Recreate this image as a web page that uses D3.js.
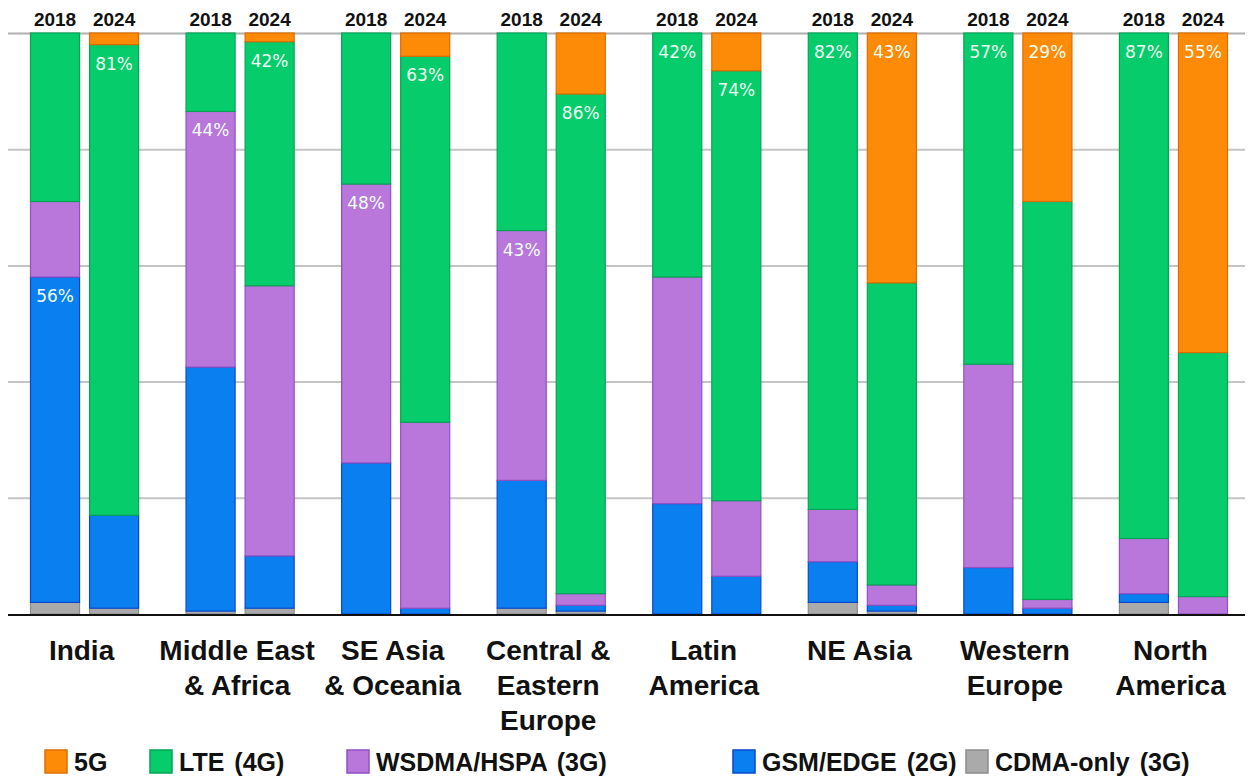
<!DOCTYPE html>
<html>
<head>
<meta charset="utf-8">
<script src="https://cdn.jsdelivr.net/npm/d3@7"></script>
<style>
  body { margin: 0; background: #fff; }
  svg { display: block; }
  .cat { font-family: "Liberation Sans", Arial, sans-serif; font-weight: bold; font-size: 28px; fill: #111; }
  .yr { font-family: "Liberation Sans", Arial, sans-serif; font-weight: bold; font-size: 19px; fill: #111; }
  .pct { font-family: "DejaVu Sans", Verdana, sans-serif; font-size: 17px; fill: #effff6; }
  .leg { font-family: "Liberation Sans", Arial, sans-serif; font-weight: bold; font-size: 25px; fill: #111; }
</style>
</head>
<body>
<div id="chart"></div>
<script>
// Chart data: each pair is [2018, 2024] share of subscriptions (%)
var categories = ["India", "Middle East\n& Africa", "SE Asia\n& Oceania", "Central &\nEastern\nEurope",
  "Latin\nAmerica", "NE Asia", "Western\nEurope", "North\nAmerica"];
var years = ["2018", "2024"];

var cdma  = [[2, 1], [0.5, 1], [0, 0], [1, 0.5], [0, 0], [2, 0.5], [0, 0], [2, 0]];
var gsm   = [[56, 16], [42, 9], [26, 1], [22, 1], [19, 6.5], [7, 1], [8, 1], [1.5, 0]];
var wcdma = [[13, 0], [44, 46.5], [48, 32], [43, 2], [39, 13], [9, 3.5], [35, 1.5], [9.5, 3]];
var lte   = [[29, 81], [13.5, 42], [26, 63], [34, 86], [42, 74], [82, 52], [57, 68.5], [87, 42]];
var fiveG = [[0, 2], [0, 1.5], [0, 4], [0, 10.5], [0, 6.5], [0, 43], [0, 29], [0, 55]];

// which series carries the printed % label on each bar
var labelKeys = [["gsm", "lte"], ["wcdma", "lte"], ["wcdma", "lte"], ["wcdma", "lte"],
  ["lte", "lte"], ["lte", "fiveG"], ["lte", "fiveG"], ["lte", "fiveG"]];

var legendNames = ["5G", "LTE (4G)", "WSDMA/HSPA (3G)", "GSM/EDGE (2G)", "CDMA-only (3G)"];

// stack order bottom -> top
var keys = ["cdma", "gsm", "wcdma", "lte", "fiveG"];
var colors = { cdma: "#aaaaaa", gsm: "#0a80f0", wcdma: "#b977dc", lte: "#07cc6b", fiveG: "#fd8b08" };
var strokes = { cdma: "#8c8c8c", gsm: "#0848d0", wcdma: "#9050c4", lte: "#06a556", fiveG: "#e06c00" };
var legendKeys = ["fiveG", "lte", "wcdma", "gsm", "cdma"];

var svgWidth = 1249;
var svgHeight = 780;

var svg = d3.select("#chart").append("svg")
  .attr("width", svgWidth)
  .attr("height", svgHeight);

// build rows for stacking
var series = { cdma: cdma, gsm: gsm, wcdma: wcdma, lte: lte, fiveG: fiveG };
var rows = [];
categories.forEach(function(c, i) {
  years.forEach(function(y, j) {
    var r = { cat: c, year: y, ci: i, yi: j };
    keys.forEach(function(k) { r[k] = series[k][i][j]; });
    rows.push(r);
  });
});

var x0 = d3.scaleBand().domain(categories).range([30, 1228]).paddingInner(0.2986).paddingOuter(0);
var x1 = d3.scaleBand().domain(years).range([0, x0.bandwidth()]).paddingInner(0.1525).paddingOuter(0);
var y = d3.scaleLinear().domain([0, 100]).range([614, 33]);

// gridlines
var grid = svg.append("g")
  .attr("transform", "translate(8,0)")
  .call(d3.axisLeft(y).tickValues([20, 40, 60, 80, 100]).tickSize(-1237).tickFormat(""));
grid.select(".domain").remove();
grid.selectAll("line").attr("stroke", "#c4c4c4").attr("stroke-width", 2);
grid.selectAll(".tick").filter(function(d) { return d === 100; }).select("line").attr("stroke", "#b0b0b0");

var stacked = d3.stack().keys(keys)(rows);

var layers = svg.append("g").selectAll("g")
  .data(stacked)
  .join("g")
  .attr("fill", function(d) { return colors[d.key]; })
  .attr("stroke", function(d) { return strokes[d.key]; });

layers.selectAll("rect")
  .data(function(d) { return d.filter(function(s) { return s[1] - s[0] > 0; }); })
  .join("rect")
  .attr("x", function(d) { return x0(d.data.cat) + x1(d.data.year) + 0.5; })
  .attr("y", function(d) { return y(d[1]); })
  .attr("width", x1.bandwidth() - 1)
  .attr("height", function(d) { return y(d[0]) - y(d[1]); })
  .attr("stroke-width", 1.2);

// baseline
svg.append("line")
  .attr("x1", 8).attr("x2", 1245)
  .attr("y1", y(0) + 1).attr("y2", y(0) + 1)
  .attr("stroke", "#111").attr("stroke-width", 2);

// percentage labels
var labelData = rows.map(function(r) {
  var k = labelKeys[r.ci][r.yi];
  var layer = stacked.find(function(s) { return s.key === k; });
  var seg = layer[rows.indexOf(r)];
  return { r: r, top: seg[1], value: r[k] };
});
svg.append("g").selectAll("text")
  .data(labelData)
  .join("text")
  .attr("class", "pct")
  .attr("x", function(d) { return x0(d.r.cat) + x1(d.r.year) + x1.bandwidth() / 2; })
  .attr("y", function(d) { return y(d.top) + 25; })
  .attr("text-anchor", "middle")
  .text(function(d) { return d.value + "%"; });

// year labels on top
svg.append("g").selectAll("text")
  .data(rows)
  .join("text")
  .attr("class", "yr")
  .attr("x", function(d) { return x0(d.cat) + x1(d.year) + x1.bandwidth() / 2; })
  .attr("y", 26)
  .attr("text-anchor", "middle")
  .text(function(d) { return d.year; });

// category labels
var catText = svg.append("g").selectAll("text")
  .data(categories)
  .join("text")
  .attr("class", "cat")
  .attr("text-anchor", "middle")
  .attr("x", function(d) { return x0(d) + x0.bandwidth() / 2 - 3; })
  .attr("y", 660);
catText.selectAll("tspan")
  .data(function(d) { return d.split("\n"); })
  .join("tspan")
  .attr("x", function() { return d3.select(this.parentNode).attr("x"); })
  .attr("dy", function(d, i) { return i === 0 ? 0 : 35; })
  .text(function(d) { return d; });

// legend
var legendX = [45, 150, 347, 733, 966];
var legend = svg.append("g").selectAll("g")
  .data(legendKeys)
  .join("g")
  .attr("transform", function(d, i) { return "translate(" + legendX[i] + ",750)"; });
legend.append("rect")
  .attr("width", 22).attr("height", 23)
  .attr("fill", function(d) { return colors[d]; })
  .attr("stroke", function(d) { return strokes[d]; })
  .attr("stroke-width", 1.5);
legend.append("text")
  .attr("class", "leg")
  .attr("x", 29)
  .attr("y", 21)
  .style("word-spacing", "3px")
  .text(function(d, i) { return legendNames[i]; });
</script>
</body>
</html>
